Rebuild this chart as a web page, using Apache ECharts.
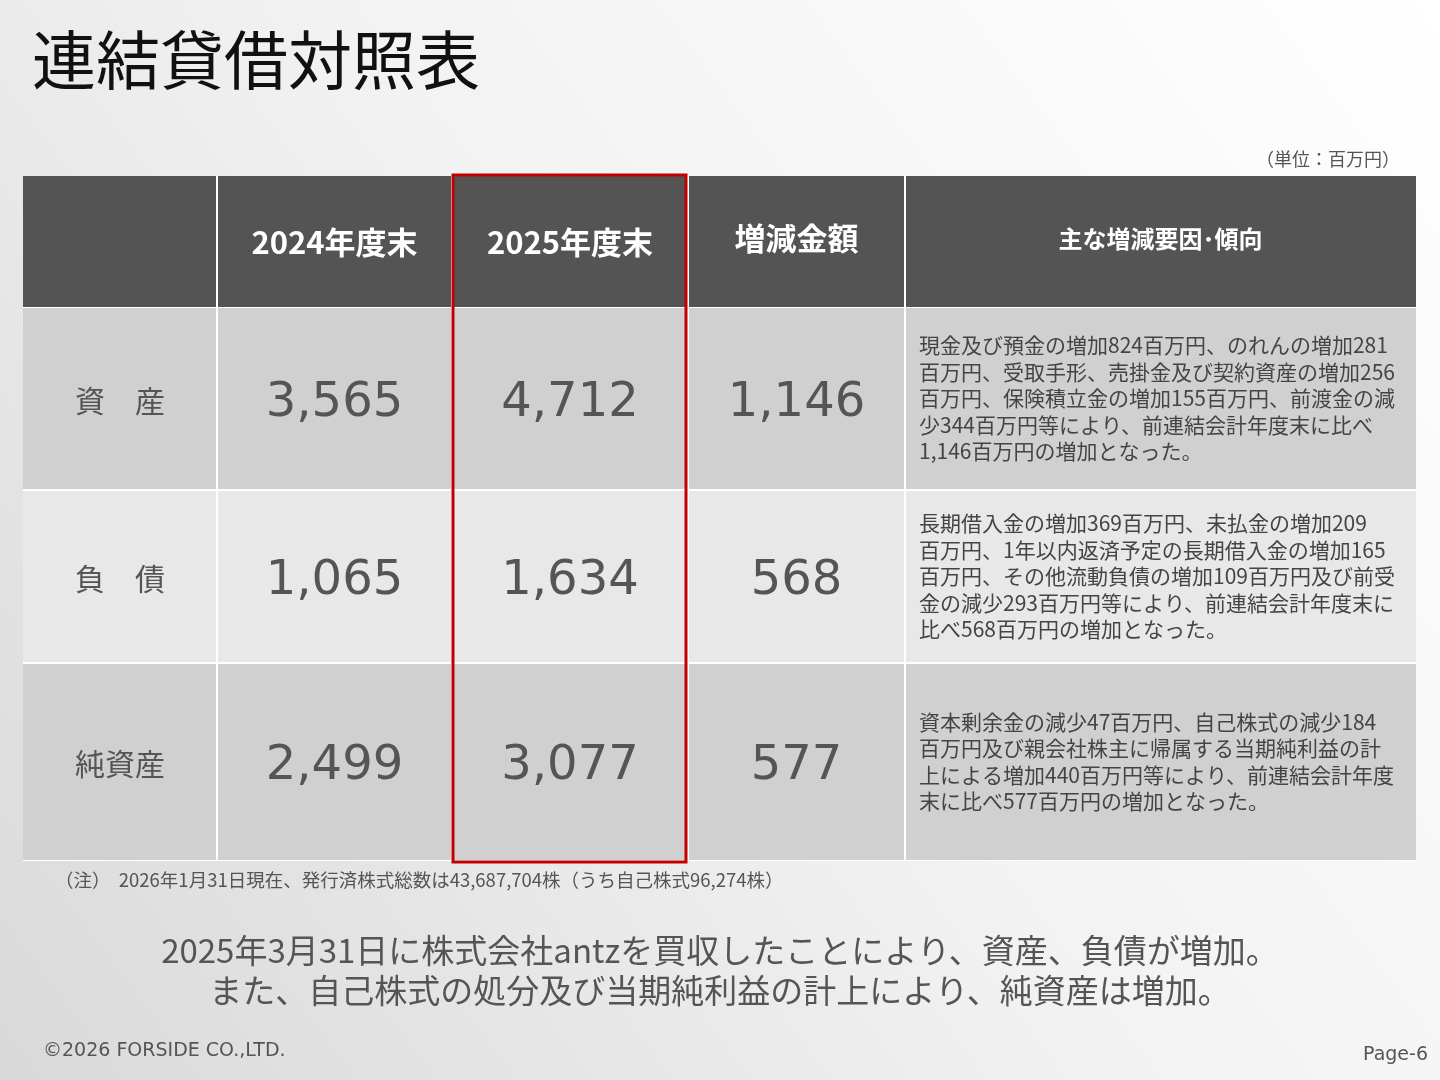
<!DOCTYPE html>
<html><head><meta charset="utf-8">
<script src="https://cdn.jsdelivr.net/npm/echarts@6/dist/echarts.min.js"></script>
<style>html,body{margin:0;padding:0}#chart{width:1440px;height:1080px}</style>
</head><body><div id="chart"></div>
<script>
const headers = ["", "2024年度末", "2025年度末", "増減金額", "主な増減要因･傾向"];
const rowLabels = ["資　産", "負　債", "純資産"];
const values2024 = ["3,565", "1,065", "2,499"];
const values2025 = ["4,712", "1,634", "3,077"];
const diffs = ["1,146", "568", "577"];
const reasons = [
  ["現金及び預金の増加824百万円、のれんの増加281", "百万円、受取手形、売掛金及び契約資産の増加256", "百万円、保険積立金の増加155百万円、前渡金の減", "少344百万円等により、前連結会計年度末に比べ", "1,146百万円の増加となった。"],
  ["長期借入金の増加369百万円、未払金の増加209", "百万円、1年以内返済予定の長期借入金の増加165", "百万円、その他流動負債の増加109百万円及び前受", "金の減少293百万円等により、前連結会計年度末に", "比べ568百万円の増加となった。"],
  ["資本剰余金の減少47百万円、自己株式の減少184", "百万円及び親会社株主に帰属する当期純利益の計", "上による増加440百万円等により、前連結会計年度", "末に比べ577百万円の増加となった。"]
];
const title = "連結貸借対照表";
const unitText = "（単位：百万円）";
const note = "（注）  2026年1月31日現在、発行済株式総数は43,687,704株（うち自己株式96,274株）";
const summary = ["2025年3月31日に株式会社antzを買収したことにより、資産、負債が増加。", "また、自己株式の処分及び当期純利益の計上により、純資産は増加。"];

const JP = '"Noto Sans CJK JP", sans-serif';
const NUM = '"DejaVu Sans", "Noto Sans CJK JP", sans-serif';
const colX = [23, 217, 452, 688, 905, 1416];
const rowY = [176, 307, 490, 663, 861];
const rowFill = ["#545454", "#d0d0d0", "#e8e8e8", "#d0d0d0"];

const g = [];
g.push({type: "text", left: 32, top: 28, style: {text: title, font: '400 64px ' + JP, fill: "#111"}});
g.push({type: "text", right: 40, top: 150, style: {text: unitText, font: '18px ' + JP, fill: "#555"}});
g.push({type: "rect", shape: {x: colX[0], y: rowY[0], width: colX[5] - colX[0], height: rowY[4] - rowY[0]}, style: {fill: "#fff"}});
for (let r = 0; r < 4; r++) {
  for (let c = 0; c < 5; c++) {
    const x = colX[c] + (c ? 1 : 0), w = colX[c + 1] - colX[c] - (c ? 1 : 0) - (c < 4 ? 1 : 0);
    const y = rowY[r] + (r ? 1 : 0), h = rowY[r + 1] - rowY[r] - (r ? 2 : 0);
    g.push({type: "rect", shape: {x, y, width: w, height: h}, style: {fill: rowFill[r]}});
    const cx = (colX[c] + colX[c + 1]) / 2, cy = (rowY[r] + rowY[r + 1]) / 2;
    let text = "", font = "", fill = "#555";
    if (r === 0) {
      text = headers[c]; fill = "#fff";
      font = c === 4 ? 'bold 24px ' + JP : 'bold 31px ' + JP;
      const dy = (c === 3 || c === 4) ? -3 : 1;
      g.push({type: "text", x: cx, y: cy + dy, style: {text, font, fill, align: "center", verticalAlign: "middle"}});
      continue;
    }
    const i = r - 1;
    if (c === 4) {
      const lines = reasons[i];
      const lh = 26.5, y0 = (i === 2 ? cy - 40 : cy - 53);
      lines.forEach((t, k) => g.push({type: "text", x: 919, y: y0 + k * lh, style: {text: t, font: '21px ' + JP, fill: "#444", verticalAlign: "middle"}}));
      continue;
    }
    if (c === 0) { text = rowLabels[i]; font = '30px ' + JP; }
    else { text = [values2024, values2025, diffs][c - 1][i]; font = '48px ' + NUM; }
    g.push({type: "text", x: cx, y: cy + (c === 0 ? 2 : 5), style: {text, font, fill, align: "center", verticalAlign: "middle"}});
  }
}
g.push({type: "rect", z: 10, shape: {x: 453, y: 175, width: 233, height: 687}, style: {fill: "none", stroke: "#c00000", lineWidth: 3}});
g.push({type: "text", x: 55, y: 880, style: {text: note, font: '18.5px ' + JP, fill: "#555", verticalAlign: "middle"}});
summary.forEach((t, k) => g.push({type: "text", x: 720, y: 950 + k * 40, style: {text: t, font: '33px ' + JP, fill: "#555", align: "center", verticalAlign: "middle"}}));
g.push({type: "text", x: 43, y: 1051, style: {text: "©2026 FORSIDE CO.,LTD.", font: '19px ' + NUM, fill: "#555", verticalAlign: "middle"}});
g.push({type: "text", x: 1428, y: 1055, style: {text: "Page-6", font: '19px ' + NUM, fill: "#555", align: "right", verticalAlign: "middle"}});

const chart = echarts.init(document.getElementById("chart"));
chart.setOption({
  backgroundColor: new echarts.graphic.LinearGradient(1, 0, 0, 1, [{offset: 0, color: "#ffffff"}, {offset: 0.5, color: "#f2f2f2"}, {offset: 1, color: "#d9d9d9"}]),
  graphic: g
});
window.addEventListener("resize", () => chart.resize());
</script></body></html>
